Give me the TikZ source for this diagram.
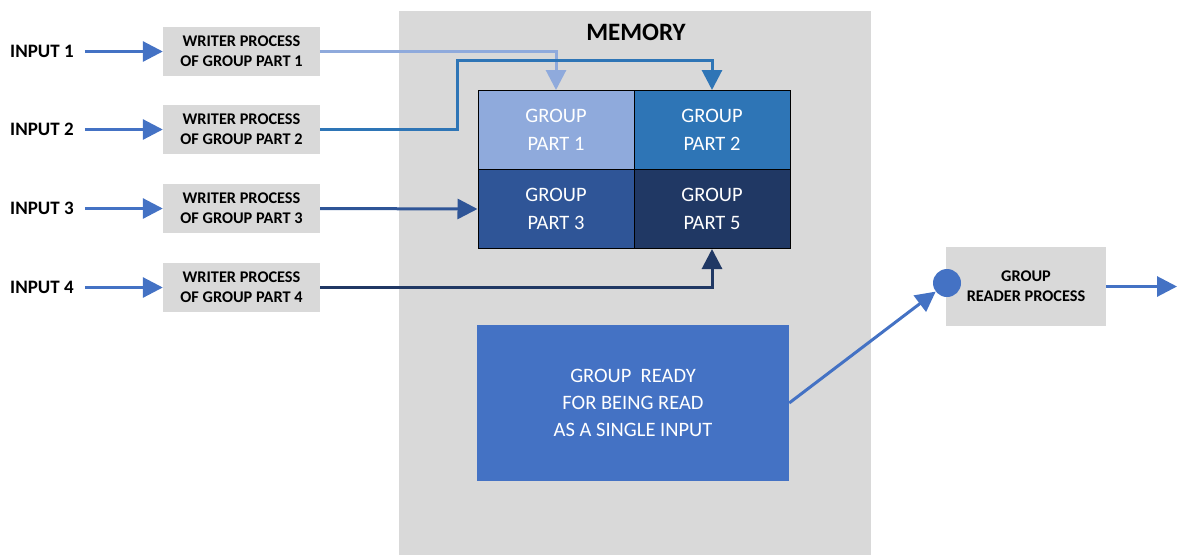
\documentclass[tikz,border=0pt]{standalone}
\usepackage{fontspec}
\setmainfont{Carlito}
\usetikzlibrary{arrows.meta}
\definecolor{gbox}{HTML}{D9D9D9}
\definecolor{mem}{HTML}{D9D9D9}
\definecolor{cA}{HTML}{8FAADC}
\definecolor{cB}{HTML}{2E75B6}
\definecolor{cC}{HTML}{2F5597}
\definecolor{cD}{HTML}{203864}
\definecolor{cE}{HTML}{4472C4}
\begin{document}
\begin{tikzpicture}[x=1pt,y=-1pt,
  inlabel/.style={anchor=west,inner sep=0pt,font=\fontsize{19}{22}\selectfont\bfseries},
  writer/.style={fill=gbox,minimum width=157pt,minimum height=49pt,inner sep=0pt,align=center,font=\fontsize{16.3}{20}\selectfont\bfseries},
  cell/.style={draw=black,line width=1pt,minimum width=156pt,minimum height=79pt,inner sep=0pt,align=center,text=white,font=\fontsize{20.5}{28}\selectfont},
  arr/.style={line width=3pt,-{Triangle[length=20pt,width=20pt]}},
]
\useasboundingbox (0,0) rectangle (1177,555);
\fill[mem] (399,11) rectangle (871,555);
\node[inner sep=0pt,font=\fontsize{25}{28}\selectfont\bfseries] (memlabel) at (636,32) {MEMORY};

% inputs and writers
\foreach \i/\y in {1/51.5,2/129.5,3/208.5,4/287.5}{
  \node[inlabel] (in\i) at (10,\y) {INPUT \i};
  \node[writer] (w\i) at (241.5,\y) {WRITER PROCESS\\OF GROUP PART \i};
  \draw[arr,cE,shorten <=11pt] (in\i.east) -- (w\i.west);
}

% cells
\node[cell,fill=cA] (g1) at (556,130) {GROUP\\PART 1};
\node[cell,fill=cB] (g2) at (712,130) {GROUP\\PART 2};
\node[cell,fill=cC] (g3) at (556,209) {GROUP\\PART 3};
\node[cell,fill=cD] (g5) at (712,209) {GROUP\\PART 5};

% connectors
\draw[arr,cA] (w1.east) -| (g1.north);
\draw[arr,cB] (w2.east) -- ++(137,0) |- ([yshift=30pt]g2.north) -- (g2.north);
\draw[arr,cC] (w3.east) -- (g3.west);
\draw[arr,cD] (w4.east) -| (g5.south);

% ready
\node[fill=cE,minimum width=312pt,minimum height=156pt,inner sep=0pt,align=center,text=white,font=\fontsize{20.5}{27}\selectfont] (ready) at (633,403) {GROUP\ \ READY\\FOR BEING READ\\AS A SINGLE INPUT};

% reader
\node[fill=gbox,minimum width=160pt,minimum height=79pt,inner sep=0pt,align=center,font=\fontsize{16.3}{20}\selectfont\bfseries] (reader) at (1026,286.5) {GROUP\\READER PROCESS};
\node[circle,fill=cE,minimum size=28pt,inner sep=0pt] (dot) at (947,283) {};
\draw[arr,cE] (ready.east) -- (dot);
\coordinate (out) at (1177,286.5);
\draw[arr,cE] (reader.east) -- (out);
\end{tikzpicture}
\end{document}
